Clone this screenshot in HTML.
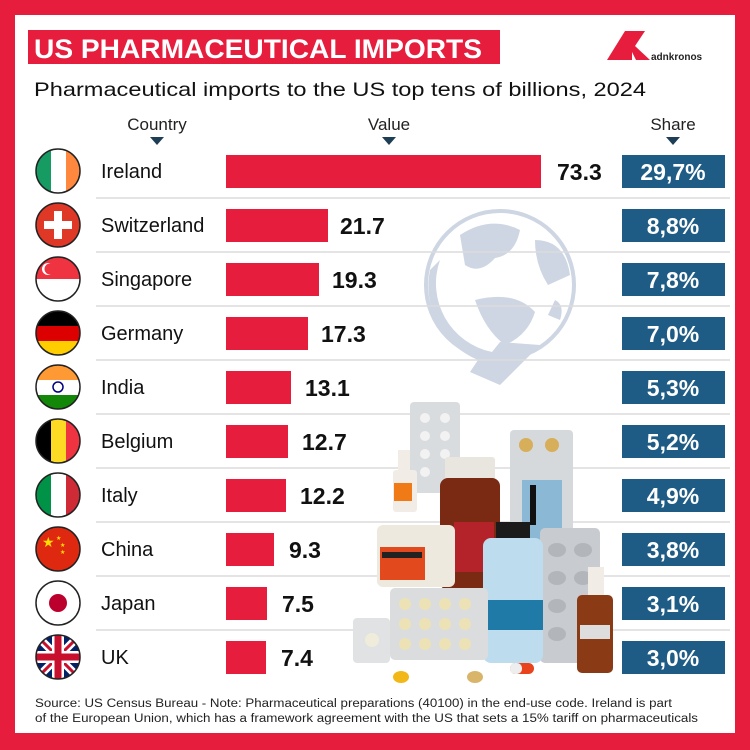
<!DOCTYPE html>
<html><head><meta charset="utf-8"><style>
html,body{margin:0;padding:0;background:#e61d3c}
svg{display:block}
text{font-family:"Liberation Sans",sans-serif}
</style></head><body>
<svg width="750" height="750" viewBox="0 0 750 750" xmlns="http://www.w3.org/2000/svg">
<defs>
<clipPath id="c"><circle cx="0" cy="0" r="22"/></clipPath>
</defs>
<rect x="0" y="0" width="750" height="750" fill="#e61d3c"/>
<rect x="15" y="15" width="720" height="718" fill="#ffffff"/>
<rect x="28" y="30" width="472" height="34" fill="#e61d3c"/>
<text x="34" y="58" font-size="27" font-weight="bold" fill="#fff" textLength="448" lengthAdjust="spacingAndGlyphs">US PHARMACEUTICAL IMPORTS</text>
<path d="M607 60 L625 31 L632 31 L632 60 Z" fill="#e61d3c"/>
<path d="M632 31 L645 31 L635 46 L650 60 L636 60 L632 52 Z" fill="#e61d3c"/>
<text x="651" y="60" font-size="10" font-weight="bold" fill="#222">adnkronos</text>
<text x="34" y="96" font-size="19.5" fill="#111" textLength="612" lengthAdjust="spacingAndGlyphs">Pharmaceutical imports to the US top tens of billions, 2024</text>
<text x="157" y="130" font-size="17" fill="#222" text-anchor="middle">Country</text>
<path d="M150 137 L164 137 L157 145 Z" fill="#1d3e55"/>
<text x="389" y="130" font-size="17" fill="#222" text-anchor="middle">Value</text>
<path d="M382 137 L396 137 L389 145 Z" fill="#1d3e55"/>
<text x="673" y="130" font-size="17" fill="#222" text-anchor="middle">Share</text>
<path d="M666 137 L680 137 L673 145 Z" fill="#1d3e55"/>

<!-- globe -->
<g fill="#cdd6e2">
<circle cx="500" cy="285" r="74" fill="none" stroke="#cdd6e2" stroke-width="4"/>
<path d="M430 270 A80 80 0 0 0 478 360 L470 372 L500 385 L540 345 L500 342 L492 352 A70 70 0 0 1 440 260 Z"/>
<path d="M460 235 Q490 215 520 230 Q515 255 495 258 Q480 275 465 265 Z"/>
<path d="M475 300 Q515 290 535 312 Q528 335 505 345 Q485 330 475 300Z"/>
<path d="M535 240 Q565 240 570 275 L548 285 Q535 265 535 240 Z"/>
<path d="M555 300 Q565 305 560 320 L548 315 Z"/>
</g>
<g stroke="#dcdcdc" stroke-width="1.5">
<line x1="96" y1="198" x2="730" y2="198"/><line x1="96" y1="252" x2="730" y2="252"/>
<line x1="96" y1="306" x2="730" y2="306"/><line x1="96" y1="360" x2="730" y2="360"/>
<line x1="96" y1="414" x2="730" y2="414"/><line x1="96" y1="468" x2="730" y2="468"/>
<line x1="96" y1="522" x2="730" y2="522"/><line x1="96" y1="576" x2="730" y2="576"/>
<line x1="96" y1="630" x2="730" y2="630"/>
</g>

<!-- medicines -->
<g>
<rect x="410" y="402" width="50" height="91" rx="4" fill="#d9dcdf"/>
<g fill="#f2f2f2"><circle cx="425" cy="418" r="5"/><circle cx="445" cy="418" r="5"/><circle cx="425" cy="436" r="5"/><circle cx="445" cy="436" r="5"/><circle cx="425" cy="454" r="5"/><circle cx="445" cy="454" r="5"/><circle cx="425" cy="472" r="5"/></g>
<rect x="393" y="470" width="24" height="42" rx="3" fill="#f1ede6"/><rect x="398" y="450" width="12" height="20" fill="#f1ede6"/><rect x="394" y="483" width="18" height="18" fill="#f07b16"/>
<rect x="510" y="430" width="63" height="103" rx="4" fill="#d6d9dc"/>
<circle cx="526" cy="445" r="7" fill="#d7ae5a"/><circle cx="552" cy="445" r="7" fill="#d7ae5a"/>
<rect x="522" y="480" width="40" height="60" fill="#8bb8d5"/><rect x="530" y="485" width="6" height="40" fill="#111"/>
<rect x="445" y="457" width="50" height="23" rx="3" fill="#e9e6df"/>
<rect x="440" y="478" width="60" height="112" rx="8" fill="#7a2a12"/>
<rect x="454" y="522" width="40" height="50" fill="#b5232a"/>
<rect x="377" y="525" width="78" height="62" rx="6" fill="#ede9df"/>
<rect x="380" y="547" width="45" height="33" fill="#e24a1d"/><rect x="382" y="552" width="40" height="6" fill="#222"/>
<rect x="540" y="528" width="60" height="135" rx="5" fill="#c8cbcf"/>
<g fill="#b2b6ba"><ellipse cx="557" cy="550" rx="9" ry="7"/><ellipse cx="583" cy="550" rx="9" ry="7"/><ellipse cx="557" cy="578" rx="9" ry="7"/><ellipse cx="583" cy="578" rx="9" ry="7"/><ellipse cx="557" cy="606" rx="9" ry="7"/><ellipse cx="557" cy="634" rx="9" ry="7"/></g>
<rect x="496" y="522" width="34" height="18" fill="#1b1b1b"/>
<rect x="483" y="538" width="60" height="125" rx="8" fill="#bddcee"/>
<rect x="483" y="600" width="60" height="30" fill="#1f7aa8"/>
<rect x="390" y="588" width="98" height="72" rx="5" fill="#dadcde"/>
<g fill="#ede2b6"><circle cx="405" cy="604" r="6"/><circle cx="425" cy="604" r="6"/><circle cx="445" cy="604" r="6"/><circle cx="465" cy="604" r="6"/><circle cx="405" cy="624" r="6"/><circle cx="425" cy="624" r="6"/><circle cx="445" cy="624" r="6"/><circle cx="465" cy="624" r="6"/><circle cx="405" cy="644" r="6"/><circle cx="425" cy="644" r="6"/><circle cx="445" cy="644" r="6"/><circle cx="465" cy="644" r="6"/></g>
<rect x="353" y="618" width="37" height="45" rx="4" fill="#e0e2e4"/><circle cx="372" cy="640" r="7" fill="#f0ecdc"/>
<rect x="588" y="567" width="16" height="30" fill="#f1ede6"/>
<rect x="577" y="595" width="36" height="78" rx="5" fill="#8a3a14"/><rect x="580" y="625" width="30" height="14" fill="#ddd"/>
<ellipse cx="401" cy="677" rx="8" ry="6" fill="#f2b818"/>
<ellipse cx="475" cy="677" rx="8" ry="6" fill="#d9b56a"/>
<rect x="510" y="663" width="24" height="11" rx="5.5" fill="#e8431c"/><rect x="510" y="663" width="12" height="11" rx="5" fill="#eee"/>
</g>

<!-- flags -->
<g transform="translate(58,171)" clip-path="url(#c)"><rect x="-22" y="-22" width="15" height="44" fill="#169b62"/><rect x="-7" y="-22" width="15" height="44" fill="#fff"/><rect x="8" y="-22" width="15" height="44" fill="#ff883e"/></g>
<g transform="translate(58,225)" clip-path="url(#c)"><rect x="-22" y="-22" width="44" height="44" fill="#e03826"/><rect x="-4" y="-14" width="8" height="28" fill="#fff"/><rect x="-14" y="-4" width="28" height="8" fill="#fff"/></g>
<g transform="translate(58,279)" clip-path="url(#c)"><rect x="-22" y="-22" width="44" height="44" fill="#fff"/><rect x="-22" y="-22" width="44" height="22" fill="#ef3340"/><circle cx="-10" cy="-10" r="6" fill="#fff"/><circle cx="-8" cy="-10" r="5.5" fill="#ef3340"/></g>
<g transform="translate(58,333)" clip-path="url(#c)"><rect x="-22" y="-22" width="44" height="15" fill="#000"/><rect x="-22" y="-7" width="44" height="15" fill="#dd0000"/><rect x="-22" y="8" width="44" height="15" fill="#ffce00"/></g>
<g transform="translate(58,387)" clip-path="url(#c)"><rect x="-22" y="-22" width="44" height="15" fill="#ff9933"/><rect x="-22" y="-7" width="44" height="15" fill="#fff"/><rect x="-22" y="8" width="44" height="15" fill="#138808"/><circle r="5" fill="none" stroke="#000080" stroke-width="1.5"/></g>
<g transform="translate(58,441)" clip-path="url(#c)"><rect x="-22" y="-22" width="15" height="44" fill="#000"/><rect x="-7" y="-22" width="15" height="44" fill="#fdda24"/><rect x="8" y="-22" width="15" height="44" fill="#ef3340"/></g>
<g transform="translate(58,495)" clip-path="url(#c)"><rect x="-22" y="-22" width="15" height="44" fill="#009246"/><rect x="-7" y="-22" width="15" height="44" fill="#fff"/><rect x="8" y="-22" width="15" height="44" fill="#ce2b37"/></g>
<g transform="translate(58,549)" clip-path="url(#c)"><rect x="-22" y="-22" width="44" height="44" fill="#de2910"/><text x="-16" y="-2" font-size="14" fill="#ffde00">★</text><text x="-2" y="-9" font-size="6" fill="#ffde00">★</text><text x="2" y="-2" font-size="6" fill="#ffde00">★</text><text x="2" y="5" font-size="6" fill="#ffde00">★</text></g>
<g transform="translate(58,603)" clip-path="url(#c)"><rect x="-22" y="-22" width="44" height="44" fill="#fff"/><circle r="9" fill="#bc002d"/></g>
<g transform="translate(58,657)" clip-path="url(#c)"><rect x="-22" y="-22" width="44" height="44" fill="#012169"/><path d="M-22 -22 L22 22 M22 -22 L-22 22" stroke="#fff" stroke-width="8"/><path d="M-22 -22 L22 22 M22 -22 L-22 22" stroke="#c8102e" stroke-width="3"/><path d="M0 -22 V22 M-22 0 H22" stroke="#fff" stroke-width="12"/><path d="M0 -22 V22 M-22 0 H22" stroke="#c8102e" stroke-width="7"/></g>
<g fill="none" stroke="#222" stroke-width="1.5">
<circle cx="58" cy="171" r="22"/><circle cx="58" cy="225" r="22"/><circle cx="58" cy="279" r="22"/><circle cx="58" cy="333" r="22"/><circle cx="58" cy="387" r="22"/><circle cx="58" cy="441" r="22"/><circle cx="58" cy="495" r="22"/><circle cx="58" cy="549" r="22"/><circle cx="58" cy="603" r="22"/><circle cx="58" cy="657" r="22"/>
</g>

<!-- names -->
<g font-size="20" fill="#111">
<text x="101" y="178">Ireland</text><text x="101" y="232">Switzerland</text><text x="101" y="286">Singapore</text><text x="101" y="340">Germany</text><text x="101" y="394">India</text><text x="101" y="448">Belgium</text><text x="101" y="502">Italy</text><text x="101" y="556">China</text><text x="101" y="610">Japan</text><text x="101" y="664">UK</text>
</g>
<!-- bars -->
<g fill="#e61d3c">
<rect x="226" y="155" width="315" height="33"/><rect x="226" y="209" width="102" height="33"/><rect x="226" y="263" width="93" height="33"/><rect x="226" y="317" width="82" height="33"/><rect x="226" y="371" width="65" height="33"/><rect x="226" y="425" width="62" height="33"/><rect x="226" y="479" width="60" height="33"/><rect x="226" y="533" width="48" height="33"/><rect x="226" y="587" width="41" height="33"/><rect x="226" y="641" width="40" height="33"/>
</g>
<g font-size="23" font-weight="bold" fill="#111">
<text x="557" y="180">73.3</text><text x="340" y="234">21.7</text><text x="332" y="288">19.3</text><text x="321" y="342">17.3</text><text x="305" y="396">13.1</text><text x="302" y="450">12.7</text><text x="300" y="504">12.2</text><text x="289" y="558">9.3</text><text x="282" y="612">7.5</text><text x="281" y="666">7.4</text>
</g>
<!-- shares -->
<g fill="#1f5c85">
<rect x="622" y="155" width="103" height="33"/><rect x="622" y="209" width="103" height="33"/><rect x="622" y="263" width="103" height="33"/><rect x="622" y="317" width="103" height="33"/><rect x="622" y="371" width="103" height="33"/><rect x="622" y="425" width="103" height="33"/><rect x="622" y="479" width="103" height="33"/><rect x="622" y="533" width="103" height="33"/><rect x="622" y="587" width="103" height="33"/><rect x="622" y="641" width="103" height="33"/>
</g>
<g font-size="23" font-weight="bold" fill="#fff" text-anchor="middle">
<text x="673" y="180">29,7%</text><text x="673" y="234">8,8%</text><text x="673" y="288">7,8%</text><text x="673" y="342">7,0%</text><text x="673" y="396">5,3%</text><text x="673" y="450">5,2%</text><text x="673" y="504">4,9%</text><text x="673" y="558">3,8%</text><text x="673" y="612">3,1%</text><text x="673" y="666">3,0%</text>
</g>
<text x="35" y="707" font-size="11.5" fill="#222" textLength="637" lengthAdjust="spacingAndGlyphs">Source: US Census Bureau - Note: Pharmaceutical preparations (40100) in the end-use code. Ireland is part</text>
<text x="35" y="722" font-size="11.5" fill="#222" textLength="663" lengthAdjust="spacingAndGlyphs">of the European Union, which has a framework agreement with the US that sets a 15% tariff on pharmaceuticals</text>
</svg>
</body></html>
